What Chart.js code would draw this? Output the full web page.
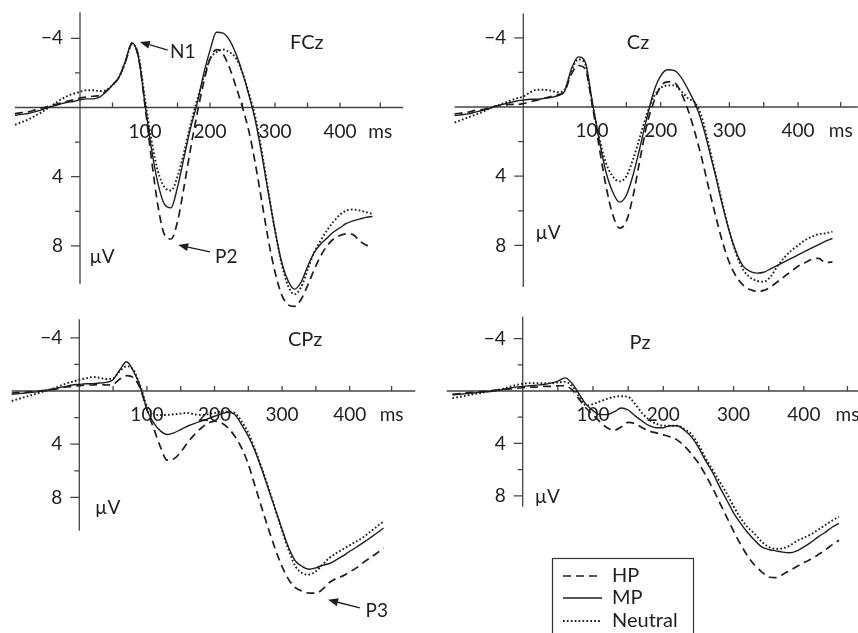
<!DOCTYPE html>
<html>
<head>
<meta charset="utf-8">
<script src="https://cdn.jsdelivr.net/npm/chart.js@4.4.1/dist/chart.umd.min.js"></script>
<style>
html,body{margin:0;padding:0;background:#fff;}
#wrap{position:relative;width:858px;height:633px;overflow:hidden;background:#fff;}
#wrap canvas{position:absolute;}
</style>
</head>
<body>
<div id="wrap">
<canvas id="cFCz"></canvas>
<canvas id="cCz"></canvas>
<canvas id="cCPz"></canvas>
<canvas id="cPz"></canvas>
</div>
<script>
// ---------- data (time in ms, amplitude in µV; negative plotted up) ----------
const timesMs = [-100,-90,-80,-70,-60,-50,-40,-30,-20,-10,0,10,20,30,40,50,60,70,80,90,100,110,120,130,140,150,160,170,180,190,200,210,220,230,240,250,260,270,280,290,300,310,320,330,340,350,360,370,380,390,400,410,420,430,440,450];

const seriesNames = ['HP', 'MP', 'Neutral'];
const panelNames = ['FCz', 'Cz', 'CPz', 'Pz'];

const fczHP = [0.35,0.3,0.25,0.15,0.05,-0.05,-0.15,-0.25,-0.35,-0.45,-0.55,-0.6,-0.65,-0.7,-0.95,-1.3,-1.75,-2.65,-3.7,-2.9,-0.1,3.0,5.7,7.35,7.6,6.6,4.6,2.4,0.4,-1.4,-2.8,-3.35,-3.1,-2.3,-1.2,0.0,1.4,3.3,5.5,7.7,9.5,10.8,11.4,11.5,11.1,10.3,9.4,8.6,8.0,7.6,7.4,7.3,7.35,7.7,7.95,8.05];
const fczMP = [0.45,0.4,0.35,0.25,0.15,0.0,-0.1,-0.2,-0.3,-0.35,-0.45,-0.5,-0.5,-0.6,-0.9,-1.3,-1.75,-2.7,-3.75,-2.9,-0.2,2.4,4.4,5.6,5.8,4.6,2.9,1.2,-0.2,-1.9,-3.3,-4.35,-4.3,-3.9,-3.1,-2.0,-0.7,0.8,2.8,5.0,7.1,8.9,10.0,10.5,10.1,9.2,8.4,7.9,7.55,7.2,6.95,6.7,6.55,6.45,6.35,6.3];
const fczNeutral = [1.0,0.85,0.7,0.5,0.3,0.05,-0.2,-0.45,-0.65,-0.8,-0.9,-1.0,-1.0,-0.95,-1.0,-1.3,-1.75,-2.65,-3.65,-3.0,-0.5,1.9,3.7,4.6,4.8,4.0,2.6,1.0,-0.4,-1.7,-2.8,-3.2,-3.35,-3.2,-2.85,-2.0,-0.8,0.6,2.6,4.9,7.1,9.0,10.3,10.8,10.4,9.4,8.4,7.7,7.1,6.6,6.2,5.95,5.9,5.95,6.05,6.15];

const czHP = [0.4,0.35,0.3,0.2,0.15,0.05,-0.05,-0.1,-0.15,-0.15,-0.2,-0.3,-0.4,-0.5,-0.6,-0.7,-0.9,-1.9,-2.4,-2.2,-0.2,2.2,4.5,6.2,7.0,6.6,5.1,3.0,1.0,-0.3,-1.2,-1.45,-1.4,-0.8,0.2,1.5,3.0,4.7,6.3,7.8,9.0,9.8,10.3,10.55,10.65,10.6,10.4,10.1,9.8,9.5,9.2,9.0,8.8,8.75,9.0,8.95];
const czMP = [0.5,0.45,0.4,0.3,0.2,0.1,-0.05,-0.15,-0.25,-0.35,-0.4,-0.45,-0.45,-0.5,-0.55,-0.65,-0.9,-2.2,-2.9,-2.6,-0.4,1.8,3.7,4.9,5.5,5.1,3.9,2.3,0.6,-0.9,-1.8,-2.15,-2.1,-1.7,-1.0,-0.2,0.9,2.4,4.0,5.7,7.2,8.4,9.2,9.5,9.6,9.55,9.35,9.15,8.95,8.75,8.55,8.35,8.15,7.95,7.75,7.6];
const czNeutral = [0.9,0.75,0.6,0.45,0.3,0.1,-0.05,-0.2,-0.35,-0.5,-0.6,-0.85,-1.0,-1.0,-0.95,-0.85,-1.0,-2.1,-2.75,-2.5,-0.3,1.7,3.2,4.0,4.3,4.0,3.0,1.7,0.4,-0.6,-1.1,-1.25,-1.25,-0.9,-0.5,-0.25,0.6,2.2,3.9,5.6,7.2,8.5,9.4,9.85,10.05,10.1,9.8,9.2,8.7,8.3,8.0,7.7,7.5,7.35,7.3,7.2];

const cpzHP = [0.15,0.12,0.1,0.05,0.0,-0.05,-0.1,-0.2,-0.3,-0.35,-0.4,-0.45,-0.45,-0.5,-0.45,-0.5,-0.9,-1.15,-1.0,-0.2,1.4,2.8,4.2,5.2,5.1,4.6,3.9,3.3,2.8,2.45,2.27,2.4,2.77,3.4,4.27,5.5,7.15,8.8,10.4,11.9,13.2,14.2,14.8,15.05,15.2,15.2,14.9,14.4,14.1,13.9,13.6,13.3,12.9,12.55,12.2,11.8];
const cpzMP = [0.25,0.2,0.15,0.1,0.05,-0.05,-0.15,-0.25,-0.35,-0.45,-0.5,-0.55,-0.55,-0.6,-0.65,-0.85,-1.6,-2.2,-1.5,-0.36,1.4,2.4,3.0,3.27,3.15,2.9,2.65,2.45,2.27,2.1,1.9,1.72,1.6,1.77,2.52,3.4,4.52,5.9,7.4,8.9,10.4,11.8,12.8,13.2,13.4,13.3,13.1,12.97,12.7,12.4,12.05,11.75,11.4,11.05,10.7,10.3];
const cpzNeutral = [0.75,0.6,0.45,0.3,0.15,0.0,-0.15,-0.35,-0.55,-0.7,-0.85,-0.95,-1.05,-1.0,-0.9,-0.95,-1.5,-1.85,-1.6,-0.4,1.1,1.7,1.8,1.8,1.75,1.7,1.65,1.75,1.8,1.75,1.65,1.55,1.55,1.64,2.27,3.15,4.4,5.8,7.3,8.9,10.5,12.0,13.2,13.7,13.8,13.55,13.05,12.55,12.2,11.9,11.6,11.3,11.0,10.6,10.2,9.8];

const pzHP = [0.25,0.2,0.15,0.1,0.05,0.0,-0.05,-0.1,-0.15,-0.2,-0.25,-0.3,-0.3,-0.35,-0.35,-0.4,-0.4,-0.1,0.6,1.3,1.8,2.35,2.8,3.0,2.75,2.4,2.5,2.8,3.05,3.2,3.35,3.5,3.75,4.2,4.8,5.5,6.4,7.4,8.5,9.6,10.7,11.7,12.6,13.3,13.8,14.2,14.25,14.0,13.7,13.4,13.1,12.85,12.5,12.15,11.75,11.4];
const pzMP = [0.3,0.25,0.2,0.15,0.1,0.05,0.0,-0.1,-0.2,-0.3,-0.35,-0.4,-0.45,-0.5,-0.6,-0.75,-1.0,-0.6,0.2,1.0,1.5,1.8,1.8,1.6,1.3,1.45,1.9,2.3,2.65,2.8,2.8,2.65,2.65,3.0,3.5,4.3,5.3,6.2,7.3,8.3,9.3,10.1,10.8,11.4,11.9,12.1,12.2,12.3,12.35,12.2,11.9,11.55,11.15,10.8,10.4,10.1];
const pzNeutral = [0.55,0.45,0.35,0.25,0.15,0.05,-0.05,-0.15,-0.3,-0.45,-0.55,-0.6,-0.6,-0.6,-0.6,-0.65,-0.7,-0.4,0.4,1.1,1.0,0.8,0.6,0.45,0.4,0.45,1.0,1.7,2.2,2.5,2.65,2.65,2.65,2.9,3.3,4.1,5.1,6.0,6.9,7.8,8.8,9.7,10.4,10.9,11.5,11.9,12.05,12.0,11.8,11.45,11.2,10.95,10.6,10.25,9.9,9.6];

// ---------- tick labels ----------
const xTickValues = [50,100,150,200,250,300,350,400];
const xTickLabels = ['','100','','200','','300','','400'];
const xUnitLabel = 'ms';
const xUnitAt = 462;
const yTickValues = [-4,-2,2,4,6,8];
const yTickLabels = ['\u22124','','','4','','8'];
const yUnitLabel = '\u00b5V';
const peakLabels = ['N1','P2','P3'];

// ---------- styles ----------
const FONT = 'Lato, "Open Sans", sans-serif';
const INK = '#1e1e1e';
const AXIS = '#444';
const seriesStyles = [
  {borderDash:[8,5], borderWidth:1.7},
  {borderDash:[], borderWidth:1.4},
  {borderDash:[1.7,2.2], borderWidth:1.9}
];

// ---------- panel layout (pixel placement of each small chart) ----------
const panels = [
  {canvas:'cFCz', name:panelNames[0], box:{left:0,top:0,width:430,height:320},
   origin:{x:80,y:107.5}, pxPerMs:0.65, pxPerUV:17.3, xRange:[-100,497], yRange:[-5.5,10.2],
   series:[fczHP,fczMP,fczNeutral], titleAt:[349,-3.73], unitAt:[34,8.64],
   notes:[{text:peakLabels[0], tip:[92,-3.79], tail:[135,-3.32], at:[158,-3.2]},
          {text:peakLabels[1], tip:[151,7.95], tail:[200,8.35], at:[225,8.65]}]},
  {canvas:'cCz', name:panelNames[1], box:{left:430,top:0,width:428,height:320},
   origin:{x:523.3,y:107}, pxPerMs:0.687, pxPerUV:17.3, xRange:[-100,487], yRange:[-5.4,10.4],
   series:[czHP,czMP,czNeutral], titleAt:[167,-3.7], unitAt:[36,7.28], notes:[]},
  {canvas:'cCPz', name:panelNames[2], box:{left:0,top:300,width:430,height:333},
   origin:{x:79.3,y:391}, pxPerMs:0.676, pxPerUV:13.3, xRange:[-100,497], yRange:[-5.4,10.5],
   series:[cpzHP,cpzMP,cpzNeutral], titleAt:[334,-3.9], unitAt:[42,8.8],
   notes:[{text:peakLabels[2], tip:[368,15.7], tail:[415,16.3], at:[440,16.5]}]},
  {canvas:'cPz', name:panelNames[3], box:{left:430,top:300,width:428,height:333},
   origin:{x:522.7,y:391}, pxPerMs:0.703, pxPerUV:13.1, xRange:[-108,477], yRange:[-5.67,8.83],
   series:[pzHP,pzMP,pzNeutral], titleAt:[167,-3.69], unitAt:[35,8.09], notes:[],
   legend:{x:122, y:258, w:141, h:90, rows:[276,298,321], lineX:[133,172], textX:182}}
];

// ---------- plugin: axes through zero, labels, annotations, legend ----------
const erpPlugin = {
  id: 'erp',
  beforeDatasetsDraw(chart, args, o) {
    const ctx = chart.ctx, xs = chart.scales.x, ys = chart.scales.y;
    const x0 = xs.getPixelForValue(0), y0 = ys.getPixelForValue(0);
    ctx.save();
    ctx.strokeStyle = AXIS; ctx.lineWidth = 1.3;
    ctx.beginPath();
    ctx.moveTo(xs.getPixelForValue(xs.min), y0); ctx.lineTo(xs.getPixelForValue(xs.max), y0);
    ctx.moveTo(x0, ys.getPixelForValue(ys.min)); ctx.lineTo(x0, ys.getPixelForValue(ys.max));
    xTickValues.forEach(v => { const p = xs.getPixelForValue(v); ctx.moveTo(p, y0); ctx.lineTo(p, y0 - 5); });
    const pu = xs.getPixelForValue(xUnitAt); ctx.moveTo(pu, y0); ctx.lineTo(pu, y0 - 5);
    yTickValues.forEach((v, i) => { const p = ys.getPixelForValue(v); const len = yTickLabels[i] ? 9 : 5; ctx.moveTo(x0 - len, p); ctx.lineTo(x0, p); });
    ctx.stroke();
    ctx.fillStyle = INK; ctx.font = '19px ' + FONT; ctx.textBaseline = 'middle';
    ctx.textAlign = 'center';
    xTickValues.forEach((v, i) => { if (xTickLabels[i]) ctx.fillText(xTickLabels[i], xs.getPixelForValue(v), y0 + 24); });
    ctx.fillText(xUnitLabel, pu, y0 + 24);
    ctx.textAlign = 'right';
    yTickValues.forEach((v, i) => { if (yTickLabels[i]) ctx.fillText(yTickLabels[i], x0 - 17, ys.getPixelForValue(v)); });
    ctx.restore();
  },
  afterDatasetsDraw(chart, args, o) {
    const ctx = chart.ctx, xs = chart.scales.x, ys = chart.scales.y;
    const P = (a) => [xs.getPixelForValue(a[0]), ys.getPixelForValue(a[1])];
    ctx.save();
    ctx.fillStyle = INK; ctx.textBaseline = 'middle'; ctx.textAlign = 'center';
    ctx.font = '20px ' + FONT;
    let p = P(o.titleAt); ctx.fillText(o.title, p[0], p[1]);
    ctx.font = '19px ' + FONT;
    p = P(o.unitAt); ctx.fillText(yUnitLabel, p[0], p[1]);
    (o.notes || []).forEach(n => {
      ctx.font = '19px ' + FONT;
      const t = P(n.at); ctx.fillText(n.text, t[0], t[1]);
      const a = P(n.tail), b = P(n.tip);
      const ang = Math.atan2(b[1] - a[1], b[0] - a[0]);
      const hl = 10, hw = 4;
      const bx = b[0] - hl * Math.cos(ang), by = b[1] - hl * Math.sin(ang);
      ctx.strokeStyle = INK; ctx.lineWidth = 1.3;
      ctx.beginPath(); ctx.moveTo(a[0], a[1]); ctx.lineTo(bx, by); ctx.stroke();
      ctx.beginPath();
      ctx.moveTo(b[0], b[1]);
      ctx.lineTo(bx + hw * Math.sin(ang), by - hw * Math.cos(ang));
      ctx.lineTo(bx - hw * Math.sin(ang), by + hw * Math.cos(ang));
      ctx.closePath(); ctx.fill();
    });
    if (o.legend) {
      const L = o.legend;
      ctx.fillStyle = '#fff'; ctx.fillRect(L.x, L.y, L.w, L.h);
      ctx.strokeStyle = '#333'; ctx.lineWidth = 1.2; ctx.setLineDash([]);
      ctx.strokeRect(L.x + 0.5, L.y + 0.5, L.w, L.h);
      chart.data.datasets.forEach((ds, i) => {
        const y = L.rows[i];
        ctx.strokeStyle = ds.borderColor; ctx.lineWidth = ds.borderWidth;
        ctx.setLineDash(ds.borderDash || []);
        ctx.beginPath(); ctx.moveTo(L.lineX[0], y); ctx.lineTo(L.lineX[1], y); ctx.stroke();
        ctx.setLineDash([]);
        ctx.fillStyle = INK; ctx.textAlign = 'left'; ctx.font = '20px ' + FONT;
        ctx.fillText(ds.label, L.textX, y);
      });
    }
    ctx.restore();
  }
};

panels.forEach(pn => {
  const cv = document.getElementById(pn.canvas);
  cv.width = pn.box.width; cv.height = pn.box.height;
  cv.style.left = pn.box.left + 'px'; cv.style.top = pn.box.top + 'px';
  cv.style.width = pn.box.width + 'px'; cv.style.height = pn.box.height + 'px';
  const areaLeft = pn.origin.x + pn.xRange[0] * pn.pxPerMs;
  const areaRight = pn.origin.x + pn.xRange[1] * pn.pxPerMs;
  const areaTop = pn.origin.y + pn.yRange[0] * pn.pxPerUV;
  const areaBottom = pn.origin.y + pn.yRange[1] * pn.pxPerUV;
  const padding = {
    left: areaLeft - pn.box.left,
    right: Math.max(0, pn.box.left + pn.box.width - areaRight),
    top: areaTop - pn.box.top,
    bottom: pn.box.top + pn.box.height - areaBottom
  };
  new Chart(cv, {
    type: 'line',
    data: {
      labels: timesMs,
      datasets: pn.series.map((arr, i) => ({
        label: seriesNames[i],
        data: arr,
        borderColor: INK,
        borderWidth: seriesStyles[i].borderWidth,
        borderDash: seriesStyles[i].borderDash,
        pointRadius: 0,
        fill: false,
        cubicInterpolationMode: 'monotone',
        clip: false
      }))
    },
    options: {
      responsive: false,
      animation: false,
      devicePixelRatio: 1,
      layout: {padding},
      scales: {
        x: {type: 'linear', min: pn.xRange[0], max: pn.xRange[1], display: false},
        y: {type: 'linear', min: pn.yRange[0], max: pn.yRange[1], reverse: true, display: false}
      },
      plugins: {
        legend: {display: false},
        tooltip: {enabled: false},
        erp: {title: pn.name, titleAt: pn.titleAt, unitAt: pn.unitAt, notes: pn.notes, legend: pn.legend}
      }
    },
    plugins: [erpPlugin]
  });
});
</script>
</body>
</html>
